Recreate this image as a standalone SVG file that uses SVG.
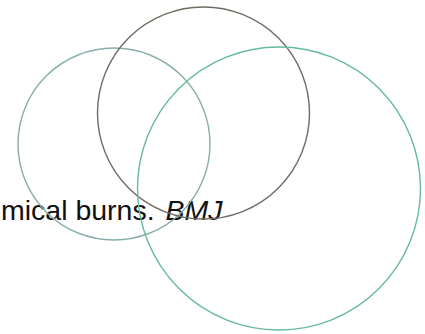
<svg xmlns="http://www.w3.org/2000/svg" width="425" height="334" viewBox="0 0 425 334">
<style>
.c{fill:none;stroke-width:1.4}
.t{font-family:"Liberation Sans",Arial,sans-serif;font-size:28.5px;fill:#111}
</style>
<rect width="425" height="334" fill="#fff"/>
<g id="text"><text class="t" x="1" y="220">mical burns. <tspan dx="3" font-style="italic">BMJ</tspan></text></g>
<g id="circle-left"><circle class="c" cx="114" cy="144" r="96" stroke="#86aeaa"/></g>
<g id="circle-top"><circle class="c" cx="203.5" cy="113" r="106" stroke="#716c63"/></g>
<g id="circle-right"><circle class="c" cx="279" cy="188.5" r="141.5" stroke="#66b9a3"/></g>
</svg>
